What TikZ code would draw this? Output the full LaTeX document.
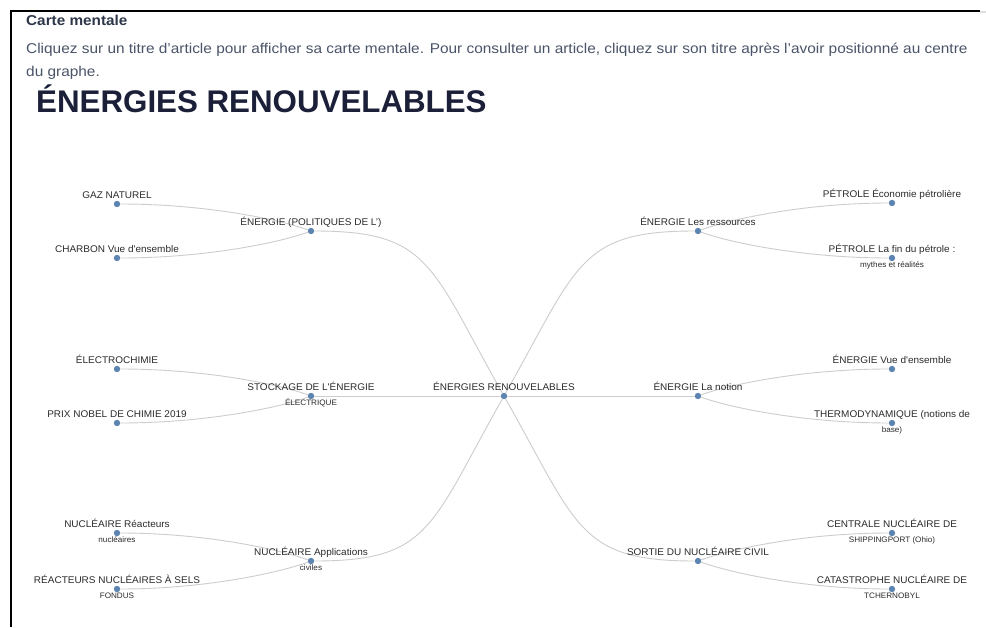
\documentclass[tikz,border=0pt]{standalone}
\usepackage{fontspec}
\setmainfont{Liberation Sans}
\newfontfamily\labfont[FakeStretch=1.03]{Liberation Sans}
\newfontfamily\parfont[FakeStretch=1.085]{Liberation Sans}
\newfontfamily\headfont[FakeStretch=1.07]{Liberation Sans}
\definecolor{dotc}{HTML}{5B84B1}
\definecolor{linkc}{HTML}{CDCDCD}
\definecolor{labc}{HTML}{2B2B2B}
\definecolor{headc}{HTML}{2D3648}
\definecolor{parc}{HTML}{4A5468}
\definecolor{titlec}{HTML}{1B1F38}
\tikzset{
  mdot/.style={circle, fill=dotc, inner sep=0pt, minimum size=6.4pt},
  mlab/.style={anchor=base, text=labc, inner sep=0pt, font=\labfont\fontsize{9.7}{11}\selectfont},
  msub/.style={anchor=base, text=labc, inner sep=0pt, font=\labfont\fontsize{7.9}{9}\selectfont},
  mlink/.style={draw=linkc, line width=0.9pt},
  mframe/.style={draw=black, line width=2.6pt},
}
\begin{document}
\begin{tikzpicture}[x=1pt,y=-1pt]
\useasboundingbox (0,0) rectangle (986,627);
\fill[white] (0,0) rectangle (986,627);
% frame
\draw[mframe] (11,627) -- (11,11) -- (980,11);
\draw[gray!25, line width=2pt] (980,11.5) -- (986,11.5);
% header
\node[anchor=base west, inner sep=0pt, text=headc, font=\headfont\fontsize{14.3}{16}\selectfont\bfseries] (head) at (26,25) {Carte mentale};
\node[anchor=base west, inner sep=0pt, text=parc, font=\parfont\fontsize{14.2}{17}\selectfont] (par1) at (26,53.5) {Cliquez sur un titre d’article pour afficher sa carte mentale. Pour consulter un article, cliquez sur son titre après l’avoir positionné au centre};
\node[anchor=base west, inner sep=0pt, text=parc, font=\parfont\fontsize{14.2}{17}\selectfont] (par2) at (26,76) {du graphe.};
\node[anchor=base west, inner sep=0pt, text=titlec, font=\fontsize{31.3}{36}\selectfont\bfseries] (title) at (36,112) {ÉNERGIES RENOUVELABLES};
% dots
\node[mdot] (c) at (504,396) {};
\node[mdot] (pol) at (311,231) {};
\node[mdot] (gaz) at (117,204) {};
\node[mdot] (cha) at (117,258) {};
\node[mdot] (sto) at (311,396) {};
\node[mdot] (ele) at (117,369) {};
\node[mdot] (nob) at (117,423) {};
\node[mdot] (nuc) at (311,561) {};
\node[mdot] (rea) at (117,533) {};
\node[mdot] (sel) at (117,589) {};
\node[mdot] (res) at (698,231) {};
\node[mdot] (pec) at (892,203) {};
\node[mdot] (pef) at (892,258) {};
\node[mdot] (not) at (698,396) {};
\node[mdot] (vue) at (892,369) {};
\node[mdot] (the) at (892,423) {};
\node[mdot] (sor) at (698,561) {};
\node[mdot] (cen) at (892,533) {};
\node[mdot] (cat) at (892,589) {};
% links
\draw[mlink] (pol) .. controls +(119,0) and +(-74,-131) .. (c);
\draw[mlink] (res) .. controls +(-119,0) and +(74,-131) .. (c);
\draw[mlink] (nuc) .. controls +(119,0) and +(-74,131) .. (c);
\draw[mlink] (sor) .. controls +(-119,0) and +(74,131) .. (c);
\draw[mlink] (sto) -- (c);
\draw[mlink] (c) -- (not);
\draw[mlink] (gaz) .. controls +(87,0) and +(-33,-12) .. (pol);
\draw[mlink] (cha) .. controls +(87,0) and +(-33,12) .. (pol);
\draw[mlink] (ele) .. controls +(87,0) and +(-33,-12) .. (sto);
\draw[mlink] (nob) .. controls +(87,0) and +(-33,12) .. (sto);
\draw[mlink] (rea) .. controls +(87,0) and +(-33,-12) .. (nuc);
\draw[mlink] (sel) .. controls +(87,0) and +(-33,12) .. (nuc);
\draw[mlink] (pec) .. controls +(-87,0) and +(33,-12) .. (res);
\draw[mlink] (pef) .. controls +(-87,0) and +(33,12) .. (res);
\draw[mlink] (vue) .. controls +(-87,0) and +(33,-12) .. (not);
\draw[mlink] (the) .. controls +(-87,0) and +(33,12) .. (not);
\draw[mlink] (cen) .. controls +(-87,0) and +(33,-12) .. (sor);
\draw[mlink] (cat) .. controls +(-87,0) and +(33,12) .. (sor);
% labels
\node[mlab] (lc) at (504,390.5) {ÉNERGIES RENOUVELABLES};
\node[mlab] (lpol) at (311,225.5) {ÉNERGIE (POLITIQUES DE L’)};
\node[mlab] (lgaz) at (117,198.5) {GAZ NATUREL};
\node[mlab] (lcha) at (117,252.5) {CHARBON Vue d'ensemble};
\node[mlab] (lsto) at (311,390.5) {STOCKAGE DE L'ÉNERGIE};
\node[msub] (lsto2) at (311,405) {ÉLECTRIQUE};
\node[mlab] (lele) at (117,363.5) {ÉLECTROCHIMIE};
\node[mlab] (lnob) at (117,417.5) {PRIX NOBEL DE CHIMIE 2019};
\node[mlab] (lnuc) at (311,555.5) {NUCLÉAIRE Applications};
\node[msub] (lnuc2) at (311,570) {civiles};
\node[mlab] (lrea) at (117,527.5) {NUCLÉAIRE Réacteurs};
\node[msub] (lrea2) at (117,542) {nucléaires};
\node[mlab] (lsel) at (117,583.5) {RÉACTEURS NUCLÉAIRES À SELS};
\node[msub] (lsel2) at (117,598) {FONDUS};
\node[mlab] (lres) at (698,225.5) {ÉNERGIE Les ressources};
\node[mlab] (lpec) at (892,197.5) {PÉTROLE Économie pétrolière};
\node[mlab] (lpef) at (892,252.5) {PÉTROLE La fin du pétrole :};
\node[msub] (lpef2) at (892,267) {mythes et réalités};
\node[mlab] (lnot) at (698,390.5) {ÉNERGIE La notion};
\node[mlab] (lvue) at (892,363.5) {ÉNERGIE Vue d'ensemble};
\node[mlab] (lthe) at (892,417.5) {THERMODYNAMIQUE (notions de};
\node[msub] (lthe2) at (892,432) {base)};
\node[mlab] (lsor) at (698,555.5) {SORTIE DU NUCLÉAIRE CIVIL};
\node[mlab] (lcen) at (892,527.5) {CENTRALE NUCLÉAIRE DE};
\node[msub] (lcen2) at (892,542) {SHIPPINGPORT (Ohio)};
\node[mlab] (lcat) at (892,583.5) {CATASTROPHE NUCLÉAIRE DE};
\node[msub] (lcat2) at (892,598) {TCHERNOBYL};
\end{tikzpicture}
\end{document}
